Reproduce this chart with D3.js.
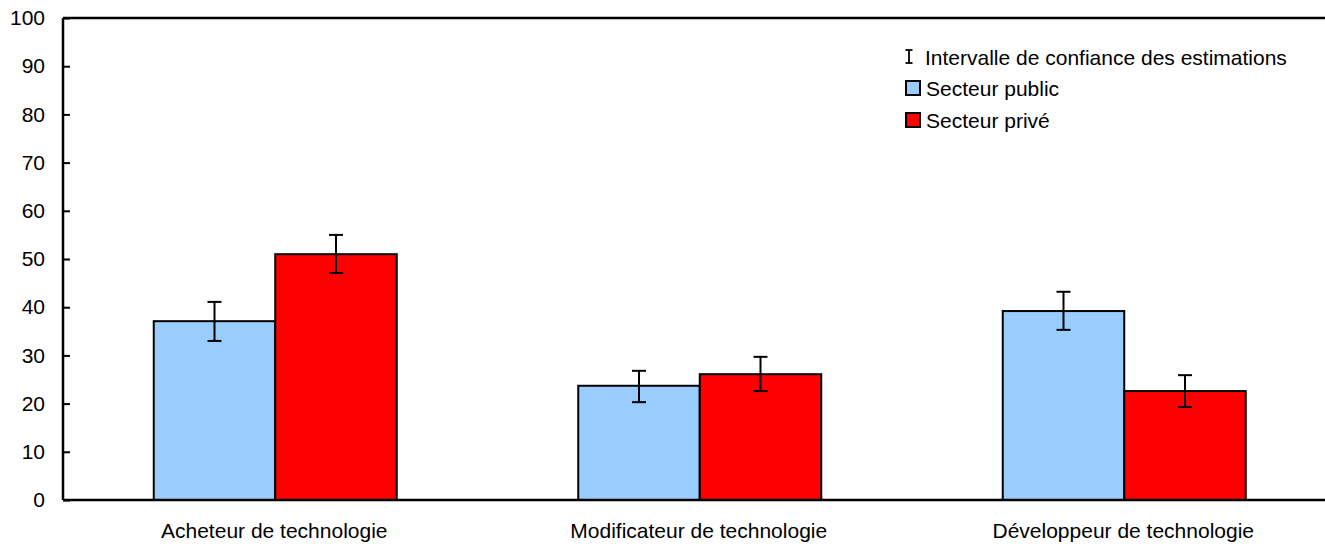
<!DOCTYPE html>
<html>
<head>
<meta charset="utf-8">
<script src="https://cdn.jsdelivr.net/npm/d3@7"></script>
<style>
  body { margin: 0; background: #fff; }
  svg { display: block; font-family: "Liberation Sans", Arial, Helvetica, sans-serif; }
</style>
</head>
<body>
<svg id="chart" width="1325" height="544"></svg>
<script>
// Technology role categories and the two sectors
const categories = ["Acheteur de technologie", "Modificateur de technologie", "Développeur de technologie"];
const seriesNames = ["Secteur public", "Secteur privé"];
const seriesColors = ["#99ccff", "#ff0000"];

// Estimates (%) and confidence interval bounds per sector
const publicValues = [37.1, 23.7, 39.2];
const publicLow = [33.0, 20.3, 35.3];
const publicHigh = [41.1, 26.8, 43.2];
const privateValues = [51.0, 26.1, 22.6];
const privateLow = [47.1, 22.6, 19.3];
const privateHigh = [55.0, 29.7, 25.9];

const yTicks = [0, 10, 20, 30, 40, 50, 60, 70, 80, 90, 100];
const ciLabel = "Intervalle de confiance des estimations";

const FS = 21;
const svg = d3.select("#chart");
const margin = { left: 63, top: 18, bottom: 44 };
const W = 1325, H = 544;
const plotRight = 63 + 3 * 424.5;

const x = d3.scaleBand().domain(categories).range([margin.left, plotRight]).paddingInner(0).paddingOuter(0);
const y = d3.scaleLinear().domain([0, 100]).range([H - margin.bottom, margin.top]);
const groupWidth = 243;
const xs = d3.scaleBand().domain(seriesNames).range([0, groupWidth]);

const rows = [];
categories.forEach((c, i) => {
  rows.push({ cat: c, s: 0, v: publicValues[i], lo: publicLow[i], hi: publicHigh[i] });
  rows.push({ cat: c, s: 1, v: privateValues[i], lo: privateLow[i], hi: privateHigh[i] });
});
const barX = d => x(d.cat) + (x.bandwidth() - groupWidth) / 2 + xs(seriesNames[d.s]);

// Bars
svg.append("g").selectAll("rect").data(rows).join("rect")
  .attr("x", barX)
  .attr("y", d => y(d.v))
  .attr("width", xs.bandwidth())
  .attr("height", d => y(0) - y(d.v))
  .attr("fill", d => seriesColors[d.s])
  .attr("stroke", "#000")
  .attr("stroke-width", 2);

// Confidence interval whiskers
const cap = 7;
const eb = svg.append("g").attr("stroke", "#000").attr("stroke-width", 2);
rows.forEach(d => {
  const cx = barX(d) + xs.bandwidth() / 2;
  eb.append("line").attr("x1", cx).attr("x2", cx).attr("y1", y(d.lo)).attr("y2", y(d.hi));
  eb.append("line").attr("x1", cx - cap).attr("x2", cx + cap).attr("y1", y(d.lo)).attr("y2", y(d.lo));
  eb.append("line").attr("x1", cx - cap).attr("x2", cx + cap).attr("y1", y(d.hi)).attr("y2", y(d.hi));
});

// Frame: top line and baseline
svg.append("line").attr("x1", margin.left).attr("x2", W).attr("y1", y(100)).attr("y2", y(100))
  .attr("stroke", "#000").attr("stroke-width", 2.5);
svg.append("line").attr("x1", margin.left).attr("x2", W).attr("y1", y(0)).attr("y2", y(0))
  .attr("stroke", "#000").attr("stroke-width", 2.5);

// Y axis with inward ticks
const yAxis = d3.axisLeft(y).tickValues(yTicks).tickSize(-7).tickPadding(18).tickFormat(d3.format("d"));
const gy = svg.append("g").attr("transform", `translate(${margin.left},0)`).call(yAxis)
  .attr("font-size", FS).attr("font-family", "'Liberation Sans', Arial, sans-serif");
gy.select(".domain").attr("stroke-width", 2.5).attr("d", `M0,${y(0)}V${y(100)}`);
gy.selectAll(".tick line").attr("stroke-width", 2);
gy.selectAll(".tick text").attr("fill", "#000");

// Category labels
svg.append("g").selectAll("text").data(categories).join("text")
  .attr("x", d => x(d) + x.bandwidth() / 2 - 1)
  .attr("y", 538)
  .attr("text-anchor", "middle")
  .attr("font-size", FS)
  .text(d => d);

// Legend
const lg = svg.append("g").attr("transform", "translate(905,0)");
const ig = lg.append("g").attr("stroke", "#000").attr("stroke-width", 1.8);
ig.append("line").attr("x1", 4).attr("x2", 4).attr("y1", 50).attr("y2", 63);
ig.append("line").attr("x1", 0.5).attr("x2", 7.5).attr("y1", 50).attr("y2", 50);
ig.append("line").attr("x1", 0.5).attr("x2", 7.5).attr("y1", 63).attr("y2", 63);
lg.append("text").attr("x", 20).attr("y", 65).attr("font-size", FS).text(ciLabel);
seriesNames.forEach((n, i) => {
  const yy = 81 + i * 32;
  lg.append("rect").attr("x", 1).attr("y", yy).attr("width", 14).attr("height", 14)
    .attr("fill", seriesColors[i]).attr("stroke", "#000").attr("stroke-width", 2);
  lg.append("text").attr("x", 21).attr("y", yy + 15).attr("font-size", FS).text(n);
});
</script>
</body>
</html>
